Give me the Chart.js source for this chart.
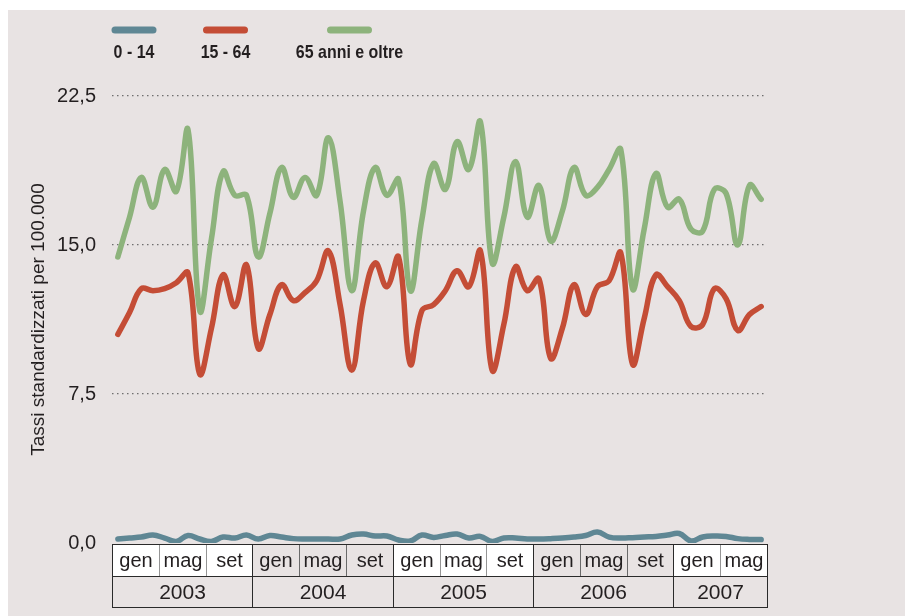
<!DOCTYPE html>
<html><head><meta charset="utf-8">
<script src="https://cdn.jsdelivr.net/npm/chart.js@4.4.1/dist/chart.umd.min.js"></script>
<style>
html,body{margin:0;padding:0;background:#fff;}
#wrap{position:absolute;left:8px;top:10px;width:897px;height:606px;background:#e8e3e3;}
canvas{display:block;}
</style></head><body>
<div id="wrap"><canvas id="c" width="897" height="606"></canvas></div>
<script>
const years = ['2003','2004','2005','2006','2007'];
const monthNames = ['gen','feb','mar','apr','mag','giu','lug','ago','set','ott','nov','dic'];
const monthGroups = ['gen','mag','set'];
const categories = [];
years.forEach(y => monthNames.forEach(m => categories.push(m + ' ' + y)));
categories.length = 56; // gen 2003 - ago 2007

const seriesNames = ['0 - 14', '15 - 64', '65 anni e oltre'];
const age0_14 = [0.2,0.25,0.3,0.4,0.25,0.08,0.38,0.2,0.08,0.3,0.25,0.4,
  0.2,0.38,0.3,0.22,0.2,0.2,0.2,0.2,0.4,0.45,0.35,0.35,
  0.15,0.1,0.4,0.28,0.38,0.45,0.25,0.33,0.08,0.25,0.25,0.2,
  0.2,0.22,0.25,0.3,0.38,0.55,0.3,0.25,0.27,0.3,0.33,0.4,
  0.48,0.1,0.3,0.35,0.33,0.22,0.18,0.17];
const age15_64 = [10.5,11.6,12.8,12.7,12.8,13.1,13.6,8.5,10.8,13.5,11.9,14.0,
  9.8,11.5,13.0,12.2,12.6,13.2,14.7,12.0,8.7,12.2,14.1,12.9,
  14.4,9.0,11.7,12.0,12.7,13.7,12.9,14.7,8.7,11.0,13.9,12.7,
  13.3,9.3,10.8,13.0,11.5,12.9,13.2,14.6,9.0,11.3,13.5,12.9,
  12.2,10.9,11.0,12.8,12.3,10.7,11.5,11.9];
const age65plus = [14.4,16.4,18.4,16.9,18.8,17.7,20.8,11.7,15.3,18.7,17.5,17.5,
  14.4,16.6,18.9,17.4,18.4,17.5,20.4,17.2,12.7,16.7,18.9,17.5,
  18.3,12.7,16.3,19.1,17.8,20.2,18.8,21.2,14.1,16.4,19.2,16.4,
  18.0,15.2,16.7,18.9,17.5,17.9,18.8,19.8,12.8,15.8,18.6,16.9,
  17.3,15.8,15.7,17.8,17.6,15.0,18.0,17.3];
const yTicks = [0, 7.5, 15, 22.5];

const colors = ['#5f8794', '#c44d36', '#8db37c'];
const FONT = "'Liberation Sans',Arial,Helvetica,sans-serif";
const TXT = '#231f20';

const legendPlugin = {
  id: 'customLegend',
  afterDraw(chart) {
    const ctx = chart.ctx;
    const centers = [126, 217.5, 341.5];
    ctx.save();
    centers.forEach((cx, i) => {
      ctx.strokeStyle = colors[i];
      ctx.lineWidth = 7;
      ctx.lineCap = 'round';
      ctx.beginPath();
      ctx.moveTo(cx - 19, 20);
      ctx.lineTo(cx + 19, 20);
      ctx.stroke();
      ctx.save();
      ctx.translate(cx, 43);
      ctx.scale(0.84, 1);
      ctx.fillStyle = TXT;
      ctx.font = "bold 19px " + FONT;
      ctx.textAlign = 'center';
      ctx.textBaseline = 'middle';
      ctx.fillText(seriesNames[i], 0, 0);
      ctx.restore();
    });
    ctx.restore();
  }
};

const tablePlugin = {
  id: 'monthTable',
  afterDraw(chart) {
    const ctx = chart.ctx, xs = chart.scales.x, ca = chart.chartArea;
    const step = xs.getPixelForValue(1) - xs.getPixelForValue(0);
    const top = Math.round(ca.bottom) + 1.5, mid = top + 32, bot = mid + 31;
    ctx.save();
    ctx.font = "20px " + FONT;
    ctx.textAlign = 'center';
    ctx.textBaseline = 'middle';
    years.forEach((yr, k) => {
      const s = k * 12;
      const n = Math.min(12, categories.length - s);
      const x0 = Math.round(xs.getPixelForValue(s) - step / 2) + 0.5;
      const x1 = Math.round(xs.getPixelForValue(s + n - 1) + step / 2) + 0.5;
      for (let g = 0; g * 4 < n; g++) {
        const a = Math.round(xs.getPixelForValue(s + g * 4) - step / 2) + 0.5;
        const b = Math.round(xs.getPixelForValue(s + Math.min(g * 4 + 3, n - 1)) + step / 2) + 0.5;
        if (k % 2 === 0) { ctx.fillStyle = '#ffffff'; ctx.fillRect(a, top, b - a, mid - top); }
        ctx.strokeStyle = (k % 2 === 0) ? '#2a2a2a' : '#6a6a6a';
        ctx.lineWidth = 1;
        ctx.beginPath(); ctx.moveTo(b, top); ctx.lineTo(b, mid); ctx.stroke();
        ctx.fillStyle = TXT;
        ctx.fillText(monthGroups[g], (a + b) / 2, (top + mid) / 2 + 1);
      }
      ctx.strokeStyle = '#2a2a2a';
      ctx.lineWidth = 1;
      ctx.strokeRect(x0, top, x1 - x0, bot - top);
      ctx.beginPath(); ctx.moveTo(x0, mid); ctx.lineTo(x1, mid); ctx.stroke();
      ctx.fillStyle = TXT;
      ctx.font = "21px " + FONT;
      ctx.fillText(yr, (x0 + x1) / 2, (mid + bot) / 2 + 1);
      ctx.font = "20px " + FONT;
    });
    ctx.restore();
  }
};

const mk = (label, data, i, order) => ({
  label, data, borderColor: colors[i], backgroundColor: colors[i],
  borderWidth: 5.5, pointRadius: 0, pointHoverRadius: 0, tension: 0.4,
  borderCapStyle: 'round', borderJoinStyle: 'round', fill: false, order
});

new Chart(document.getElementById('c'), {
  type: 'line',
  data: {
    labels: categories,
    datasets: [
      mk(seriesNames[0], age0_14, 0, 3),
      mk(seriesNames[1], age15_64, 1, 2),
      mk(seriesNames[2], age65plus, 2, 1)
    ]
  },
  options: {
    responsive: false,
    animation: false,
    events: [],
    layout: { padding: { top: 86, bottom: 73, right: 138, left: 0 } },
    plugins: { legend: { display: false }, tooltip: { enabled: false } },
    scales: {
      x: { type: 'category', offset: true, display: false },
      y: {
        min: 0, max: 22.5,
        afterBuildTicks(s) { s.ticks = yTicks.map(v => ({ value: v })); },
        afterFit(s) { s.width = 104; },
        ticks: {
          callback: v => v.toFixed(1).replace('.', ','),
          font: { family: FONT, size: 20 },
          color: TXT, padding: 16
        },
        grid: {
          drawTicks: false,
          color: c => (c.tick && c.tick.value === 0) ? 'rgba(0,0,0,0)' : '#6e6e6e',
          lineWidth: 1.3
        },
        border: { display: false, dash: [1.5, 3.5] },
        title: {
          display: true, text: 'Tassi standardizzati per 100.000',
          font: { family: FONT, size: 19 }, color: TXT,
          padding: { top: 19, bottom: 0 }
        }
      }
    }
  },
  plugins: [legendPlugin, tablePlugin]
});
</script>
</body></html>
